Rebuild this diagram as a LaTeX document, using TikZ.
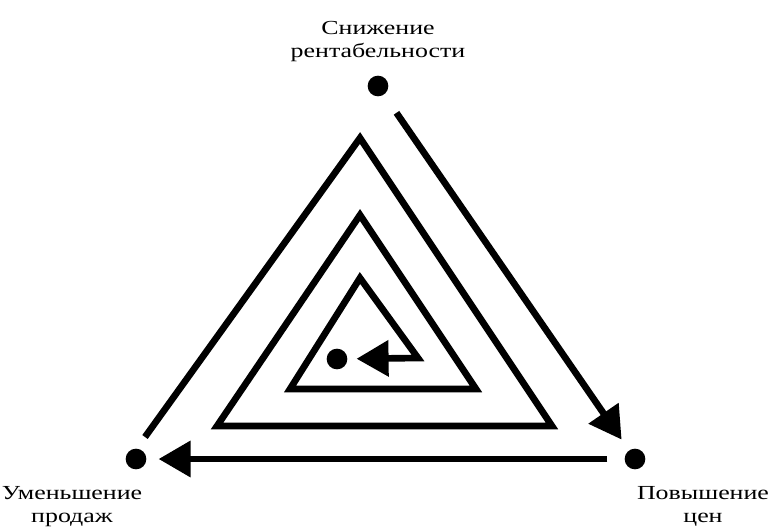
\documentclass[tikz,border=0pt]{standalone}
\usepackage{fontspec}
\setmainfont{Liberation Serif}
\newfontfamily\termfont{Liberation Serif}[FakeStretch=1.3]
\usetikzlibrary{arrows.meta}

\begin{document}
\begin{tikzpicture}[x=0.03cm, y=-0.03cm,
  dot/.style={circle, fill, inner sep=0pt, minimum size=0.62cm},
  term/.style={inner sep=0pt, anchor=north, align=center,
    font=\termfont\fontsize{17pt}{19.6pt}\selectfont},
  track/.style={line width=0.2cm, line join=miter},
  head/.style={-{Triangle[length=0.96cm, width=1.05cm]}}]
  \useasboundingbox (0,0) rectangle (773,530);
  \node[dot] (top) at (378,86) {};
  \node[dot] (left) at (136,459) {};
  \node[dot] (right) at (635,459) {};
  \node[dot] (mid) at (337,359) {};
  \node[term] (toptext) at (378,21) {Снижение\\рентабельности};
  \node[term] (lefttext) at (72,486) {Уменьшение\\продаж};
  \node[term] (righttext) at (703,486) {Повышение\\цен};
  \coordinate (start) at (145,437);
  \coordinate (a1) at (360,138);
  \coordinate (r1) at (552,426);
  \coordinate (l2) at (217,426);
  \coordinate (a2) at (360,215);
  \coordinate (r2) at (476,389);
  \coordinate (l3) at (290,389);
  \coordinate (a3) at (360,278);
  \coordinate (r3) at (418,358);
  \draw[track, head, shorten <=0.66cm, shorten >=0.39cm] (top) -- (right);
  \draw[track, head, shorten <=0.51cm, shorten >=0.36cm] (right) -- (left);
  \draw[track, head, shorten >=0.27cm] (start) -- (a1) -- (r1) -- (l2) -- (a2)
    -- (r2) -- (l3) -- (a3) -- (r3) -- (mid);
\end{tikzpicture}
\end{document}
